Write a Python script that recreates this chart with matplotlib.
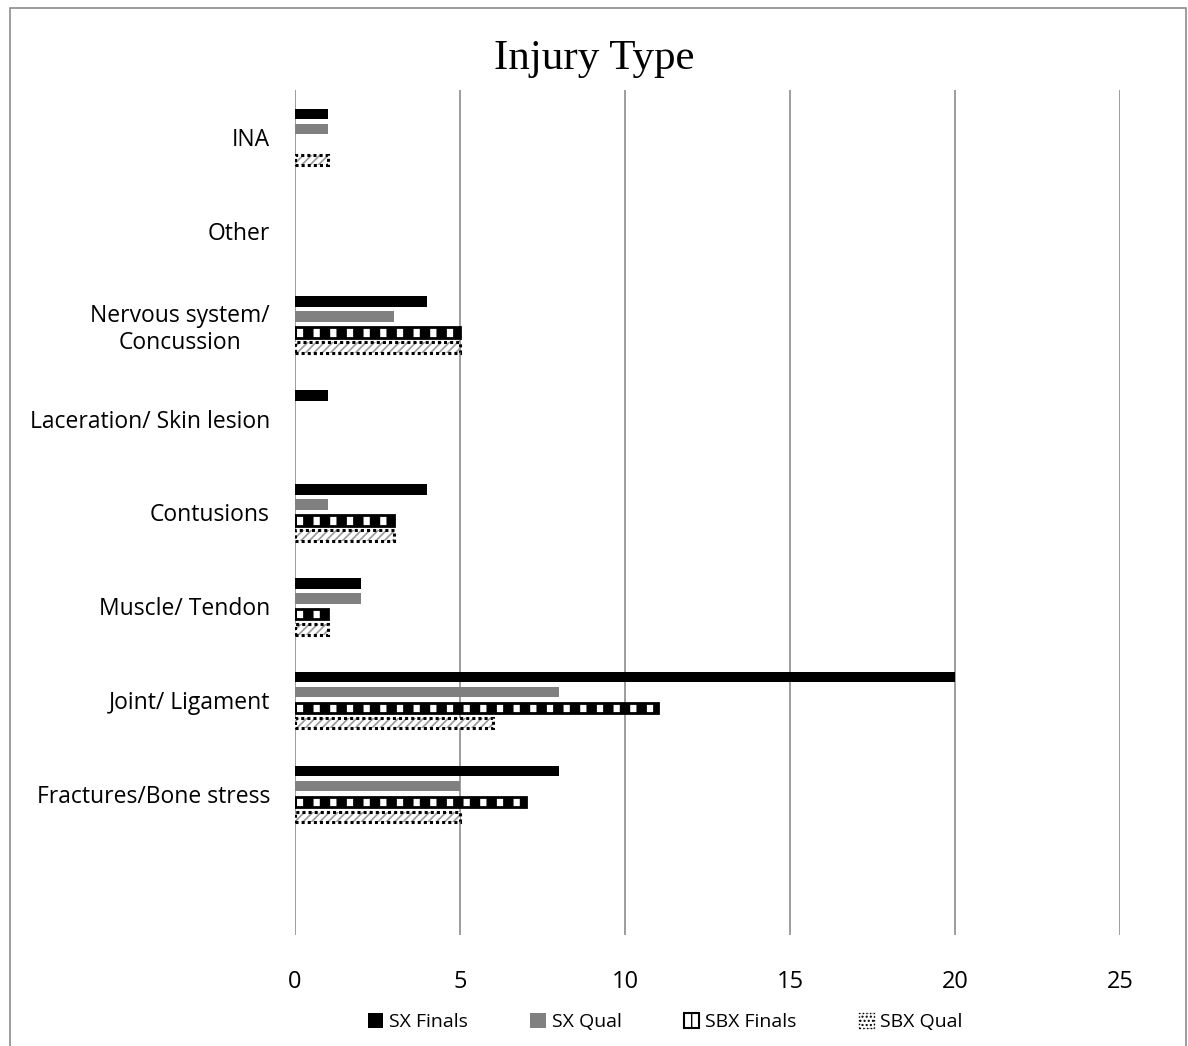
import numpy as np
import matplotlib.pyplot as plt
from matplotlib.patches import Rectangle

# categories bottom to top (Excel draws the first one at the bottom; first is blank)
categories = ["", "Fractures/Bone stress", "Joint/ Ligament", "Muscle/ Tendon", "Contusions",
              "Laceration/ Skin lesion", "Nervous system/\nConcussion", "Other", "INA"]
sx_finals = [0, 8, 20, 2, 4, 1, 4, 0, 1]
sx_qual = [0, 5, 8, 2, 1, 0, 3, 0, 1]
sbx_finals = [0, 7, 11, 1, 3, 0, 5, 0, 0]
sbx_qual = [0, 5, 6, 1, 3, 0, 5, 0, 1]
x_ticks = [0, 5, 10, 15, 20, 25]

plt.rcParams['font.family'] = ['Open Sans', 'DejaVu Sans']

fig = plt.figure(figsize=(11.88, 10.46), dpi=100)
ax = fig.add_axes([0.2483, 0.1061, 0.6945, 0.8080])

y = np.arange(len(categories))
h = 0.11

ax.barh(y + 0.245, sx_finals, height=h, color='black', zorder=3)
ax.barh(y + 0.085, sx_qual, height=h, color='#808080', zorder=3)

# SBX Finals: black frame with white gaps
vals = np.array(sbx_finals)
m = vals > 0
b = ax.barh(y[m] - 0.085, vals[m], height=h, facecolor='white', edgecolor='black',
            linewidth=2, hatch='|', zorder=3)
for p in b:
    try:
        p.set_hatch_linewidth(7.5)
    except AttributeError:
        pass

# SBX Qual: dotted outline with light diagonal hatch
vals = np.array(sbx_qual)
m = vals > 0
b2 = ax.barh(y[m] - 0.245, vals[m], height=h, facecolor='white', edgecolor='#9a9a9a',
             linewidth=0, hatch='////', zorder=3)
for p in b2:
    try:
        p.set_hatch_linewidth(1.2)
    except AttributeError:
        pass
ax.barh(y[m] - 0.245, vals[m], height=h, facecolor='none', edgecolor='black',
        linewidth=2.2, linestyle=(0, (1, 1)), zorder=4)

ax.set_xlim(0, 25)
ax.set_ylim(-0.5, len(categories) - 0.5)
ax.set_xticks(x_ticks)
ax.set_yticks(y)
ax.set_yticklabels(categories, fontsize=16.5, ha='right', multialignment='center')
ax.tick_params(axis='y', length=0, pad=18)
ax.tick_params(axis='x', length=0, pad=25, labelsize=17)
ax.grid(axis='x', color='#8c8c8c', linewidth=1.2, zorder=0)
for s in ax.spines.values():
    s.set_visible(False)

fig.text(0.5, 0.944, "Injury Type", fontsize=31, family='Liberation Serif', ha='center', va='center')

handles = [
    Rectangle((0, 0), 1, 1, facecolor='black'),
    Rectangle((0, 0), 1, 1, facecolor='#808080'),
    Rectangle((0, 0), 1, 1, facecolor='white', edgecolor='black', hatch='|', linewidth=1.5),
    Rectangle((0, 0), 1, 1, facecolor='white', edgecolor='black', hatch='....', linewidth=1, linestyle=':'),
]
fig.legend(handles, ["SX Finals", "SX Qual", "SBX Finals", "SBX Qual"], loc='center',
           bbox_to_anchor=(0.56, 0.023), ncol=4, frameon=False, fontsize=14,
           handlelength=0.8, handleheight=0.8, handletextpad=0.3, columnspacing=3.2)

fig.patches.append(Rectangle((10 / 1188, -0.01), 1176 / 1188, 1 - 8 / 1046 + 0.01,
                             transform=fig.transFigure, fill=False, edgecolor='#8c8c8c',
                             linewidth=1.2))

fig.savefig("out.png", dpi=100)
